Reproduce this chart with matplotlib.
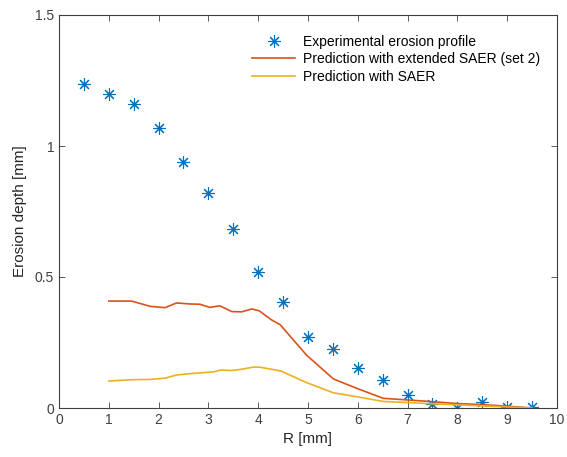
import matplotlib
matplotlib.use("Agg")
import matplotlib.pyplot as plt

plt.rcParams['font.family'] = ['Liberation Sans', 'DejaVu Sans']

# experimental erosion profile
r_exp = [0.5, 1.0, 1.5, 2.0, 2.5, 3.0, 3.5, 4.0, 4.5, 5.0, 5.5, 6.0, 6.5, 7.0, 7.5, 8.0, 8.5, 9.0, 9.5]
depth_exp = [1.235, 1.20, 1.16, 1.07, 0.94, 0.82, 0.685, 0.52, 0.405, 0.271, 0.224, 0.151, 0.106,
             0.051, 0.015, 0.001, 0.022, 0.005, 0.005]

# prediction with extended SAER (set 2)
r_ext = [1.0, 1.46, 1.83, 2.13, 2.36, 2.63, 2.83, 3.03, 3.23, 3.47, 3.67, 3.87, 4.02, 4.27, 4.44,
         4.97, 5.51, 5.98, 6.51, 6.98, 7.5, 8.0, 8.5, 9.0, 9.5]
depth_ext = [0.408, 0.408, 0.388, 0.383, 0.401, 0.397, 0.396, 0.384, 0.390, 0.368, 0.367, 0.378,
             0.371, 0.336, 0.318, 0.202, 0.111, 0.075, 0.037, 0.031, 0.024, 0.017, 0.013, 0.007, 0.0]

# prediction with SAER
r_saer = [1.0, 1.46, 1.83, 2.13, 2.36, 2.63, 2.97, 3.1, 3.26, 3.47, 3.67, 3.9, 4.03, 4.46, 4.97,
          5.51, 5.98, 6.51, 6.98, 7.5, 8.5, 9.5]
depth_saer = [0.103, 0.108, 0.109, 0.114, 0.126, 0.131, 0.136, 0.138, 0.145, 0.143, 0.148, 0.156,
              0.156, 0.141, 0.097, 0.058, 0.043, 0.025, 0.021, 0.016, 0.008, 0.0]

fig = plt.figure(figsize=(5.67, 4.57), dpi=100)
ax = fig.add_axes([59 / 567, 1 - 408 / 457, 498 / 567, 393 / 457])

# matlab style asterisk: 8 spokes
ax.plot(r_exp, depth_exp, linestyle='none', marker=(8, 2, 0), markersize=9, markeredgewidth=0.8,
        color='#0072BD', label='Experimental erosion profile')
ax.plot(r_ext, depth_ext, color='#D95319', linewidth=1.2, label='Prediction with extended SAER (set 2)')
ax.plot(r_saer, depth_saer, color='#EDB120', linewidth=1.2, label='Prediction with SAER')

ax.set_xlim(0, 10)
ax.set_ylim(0, 1.5)
ax.set_xticks(range(0, 11))
ax.set_yticks([0, 0.5, 1, 1.5])
ax.set_yticklabels(['0', '0.5', '1', '1.5'])
ax.tick_params(direction='in', top=True, right=True, length=4, width=0.6,
               labelsize=10, colors='#404040', labelcolor='#404040')
for s in ax.spines.values():
    s.set_color('#404040')
    s.set_linewidth(0.8)

ax.set_xlabel('R [mm]', fontsize=11, color='#262626', labelpad=4)
ax.set_ylabel('Erosion depth [mm]', fontsize=11, color='#262626', labelpad=6)

ax.legend(loc='upper right', frameon=False, fontsize=10, handlelength=3.1, handletextpad=0.6,
          borderaxespad=0.6, labelspacing=0.25, bbox_to_anchor=(0.995, 0.985))

fig.savefig('out.png', dpi=100)
